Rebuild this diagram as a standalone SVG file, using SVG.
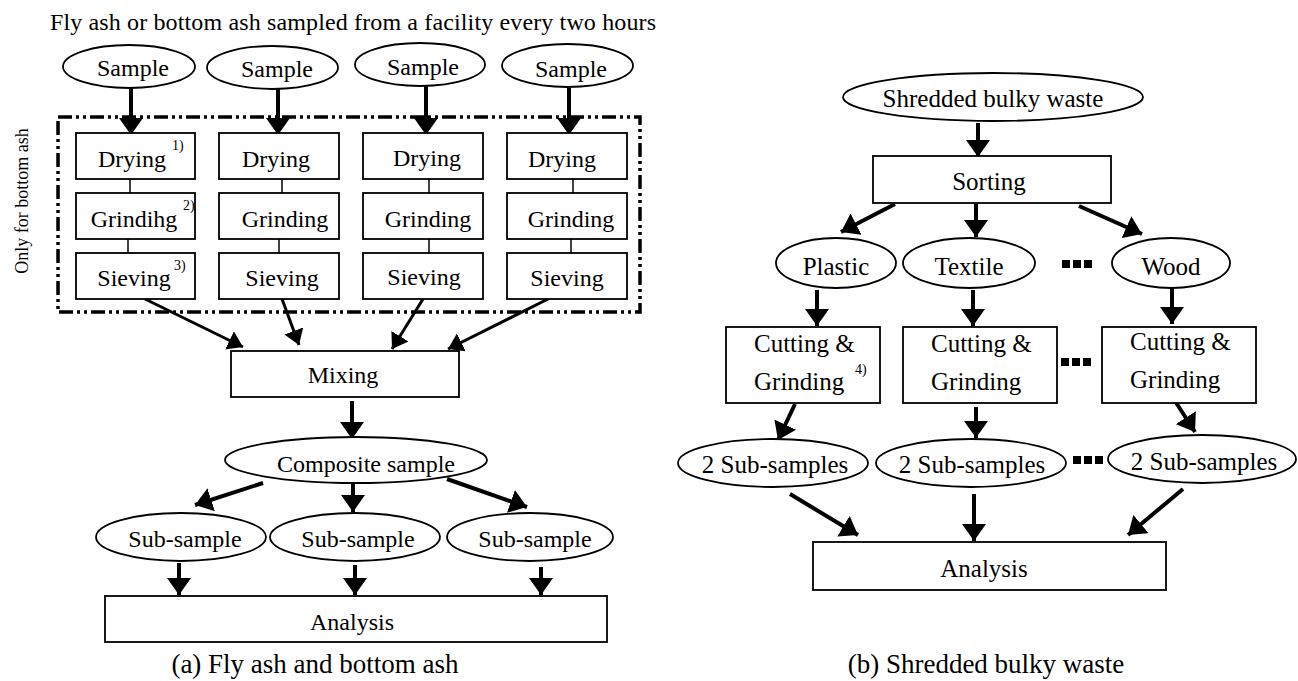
<svg xmlns="http://www.w3.org/2000/svg" width="1298" height="681" viewBox="0 0 1298 681">
<defs>
<style>
text{font-family:"Liberation Serif","Times New Roman",serif;fill:#000}
.t{font-size:24px;text-anchor:middle}
.r{font-size:25px;text-anchor:middle}
.rl{font-size:25px}
.sup{font-size:14px}
.cap{font-size:27px;text-anchor:middle}
.box{fill:#fff;stroke:#000;stroke-width:1.8}
.ell{fill:#fff;stroke:#000;stroke-width:1.8}
.thin{stroke:#000;stroke-width:1.5;fill:none}
.a{stroke:#000;stroke-width:4;fill:none;marker-end:url(#hb)}
.as{stroke:#000;stroke-width:3;fill:none;marker-end:url(#hs)}
.dd{fill:none;stroke:#000;stroke-width:3.5;stroke-dasharray:14 4 3 4 3 4}
</style>
<marker id="hb" viewBox="0 0 17 24" refX="17" refY="12" markerWidth="17" markerHeight="24" markerUnits="userSpaceOnUse" orient="auto"><path d="M0,0 L17,12 L0,24 z" fill="#000"/></marker>
<marker id="hs" viewBox="0 0 15 20" refX="15" refY="10" markerWidth="15" markerHeight="20" markerUnits="userSpaceOnUse" orient="auto"><path d="M0,0 L15,10 L0,20 z" fill="#000"/></marker>
</defs>
<rect width="1298" height="681" fill="#fff"/>

<!-- Panel (a) -->
<text x="50" y="30" style="font-size:24px" textLength="606" lengthAdjust="spacing">Fly ash or bottom ash sampled from a facility every two hours</text>
<text transform="translate(28,201) rotate(-90)" style="font-size:18px;text-anchor:middle">Only for bottom ash</text>
<rect id="bottom-ash-only" class="dd" x="58" y="117" width="582" height="195"/>

<g id="connectors">
<line class="a" x1="131" y1="87" x2="131" y2="135"/>
<line class="a" x1="278" y1="89" x2="278" y2="135"/>
<line class="a" x1="426" y1="86" x2="426" y2="135"/>
<line class="a" x1="569" y1="88" x2="569" y2="135"/>
<line class="thin" x1="130" y1="179" x2="130" y2="193"/>
<line class="thin" x1="128" y1="239" x2="128" y2="253"/>
<line class="thin" x1="282" y1="179" x2="282" y2="193"/>
<line class="thin" x1="279" y1="239" x2="279" y2="253"/>
<line class="thin" x1="429" y1="179" x2="429" y2="193"/>
<line class="thin" x1="429" y1="239" x2="429" y2="253"/>
<line class="thin" x1="573" y1="179" x2="573" y2="193"/>
<line class="thin" x1="571" y1="239" x2="571" y2="253"/>
<line class="as" x1="145" y1="299" x2="243" y2="347"/>
<line class="as" x1="282" y1="299" x2="299" y2="345"/>
<line class="as" x1="423" y1="299" x2="392" y2="349"/>
<line class="as" x1="552" y1="297" x2="448" y2="349"/>
<line class="a" x1="352" y1="401" x2="352" y2="439"/>
<line class="a" x1="263" y1="483" x2="195" y2="505"/>
<line class="a" x1="353" y1="482" x2="353" y2="512"/>
<line class="a" x1="447" y1="479" x2="527" y2="507"/>
<line class="a" x1="179" y1="563" x2="179" y2="595"/>
<line class="a" x1="355" y1="565" x2="355" y2="595"/>
<line class="a" x1="541" y1="567" x2="541" y2="595"/>
<!-- panel (b) -->
<line class="a" x1="978" y1="123" x2="978" y2="157"/>
<line class="a" x1="895" y1="204" x2="841" y2="232"/>
<line class="a" x1="976" y1="204" x2="976" y2="237"/>
<line class="a" x1="1079" y1="206" x2="1142" y2="234"/>
<line class="a" x1="817" y1="290" x2="817" y2="326"/>
<line class="a" x1="973" y1="290" x2="973" y2="326"/>
<line class="a" x1="1172" y1="288" x2="1172" y2="324"/>
<line class="a" x1="795" y1="404" x2="778" y2="440"/>
<line class="a" x1="976" y1="407" x2="976" y2="438"/>
<line class="a" x1="1175" y1="401" x2="1195" y2="432"/>
<line class="a" x1="790" y1="494" x2="858" y2="535"/>
<line class="a" x1="974" y1="494" x2="974" y2="541"/>
<line class="a" x1="1183" y1="489" x2="1128" y2="535"/>
</g>

<g id="sample1"><ellipse class="ell" cx="129" cy="66.5" rx="66" ry="21.5"/><text class="t" x="133" y="76">Sample</text></g>
<g id="sample2"><ellipse class="ell" cx="272.5" cy="67.5" rx="65.5" ry="21.5"/><text class="t" x="277" y="77">Sample</text></g>
<g id="sample3"><ellipse class="ell" cx="420" cy="64.5" rx="65" ry="21.5"/><text class="t" x="423" y="75">Sample</text></g>
<g id="sample4"><ellipse class="ell" cx="567.5" cy="65.5" rx="65.5" ry="21.5"/><text class="t" x="571" y="77">Sample</text></g>

<g id="drying1"><rect class="box" x="76" y="133" width="119" height="46"/><text class="t" x="132" y="167">Drying</text><text class="sup" x="172" y="150">1)</text></g>
<g id="drying2"><rect class="box" x="219" y="133" width="120" height="46"/><text class="t" x="276" y="167">Drying</text></g>
<g id="drying3"><rect class="box" x="363" y="133" width="120" height="46"/><text class="t" x="427" y="166">Drying</text></g>
<g id="drying4"><rect class="box" x="507" y="133" width="120" height="46"/><text class="t" x="562" y="167">Drying</text></g>

<g id="grinding1"><rect class="box" x="76" y="193" width="119" height="46"/><text class="t" x="134" y="227">Grindihg</text><text class="sup" x="183" y="210">2)</text></g>
<g id="grinding2"><rect class="box" x="219" y="193" width="120" height="46"/><text class="t" x="285" y="227">Grinding</text></g>
<g id="grinding3"><rect class="box" x="363" y="193" width="120" height="46"/><text class="t" x="428" y="227">Grinding</text></g>
<g id="grinding4"><rect class="box" x="507" y="193" width="120" height="46"/><text class="t" x="571" y="227">Grinding</text></g>

<g id="sieving1"><rect class="box" x="76" y="253" width="119" height="46"/><text class="t" x="134" y="286">Sieving</text><text class="sup" x="174" y="270">3)</text></g>
<g id="sieving2"><rect class="box" x="219" y="253" width="120" height="46"/><text class="t" x="282" y="286">Sieving</text></g>
<g id="sieving3"><rect class="box" x="363" y="253" width="120" height="46"/><text class="t" x="424" y="285">Sieving</text></g>
<g id="sieving4"><rect class="box" x="507" y="253" width="120" height="46"/><text class="t" x="567" y="286">Sieving</text></g>

<g id="mixing"><rect class="box" x="231" y="351" width="228" height="46"/><text class="t" x="343" y="383">Mixing</text></g>
<g id="composite"><ellipse class="ell" cx="356" cy="460" rx="131" ry="23"/><text class="t" x="366" y="472">Composite sample</text></g>
<g id="subsample1"><ellipse class="ell" cx="181" cy="537" rx="85" ry="24"/><text class="t" x="185" y="547">Sub-sample</text></g>
<g id="subsample2"><ellipse class="ell" cx="355" cy="537" rx="85" ry="24"/><text class="t" x="358" y="547">Sub-sample</text></g>
<g id="subsample3"><ellipse class="ell" cx="530" cy="537" rx="83" ry="24"/><text class="t" x="535" y="547">Sub-sample</text></g>
<g id="analysis-a"><rect class="box" x="105" y="596" width="502" height="46"/><text class="t" x="352" y="630">Analysis</text></g>
<text class="cap" x="315" y="673">(a) Fly ash and bottom ash</text>

<!-- Panel (b) -->
<g id="shredded"><ellipse class="ell" cx="993" cy="97" rx="150" ry="24"/><text class="r" x="993" y="107">Shredded bulky waste</text></g>
<g id="sorting"><rect class="box" x="873" y="156" width="238" height="47"/><text class="r" x="989" y="190">Sorting</text></g>
<g id="plastic"><ellipse class="ell" cx="836" cy="263" rx="60" ry="25"/><text class="r" x="836" y="275">Plastic</text></g>
<g id="textile"><ellipse class="ell" cx="969" cy="263" rx="66" ry="25"/><text class="r" x="969" y="275">Textile</text></g>
<g id="dots1"><rect x="1062" y="260" width="8" height="8"/><rect x="1073" y="260" width="8" height="8"/><rect x="1084" y="260" width="8" height="8"/></g>
<g id="wood"><ellipse class="ell" cx="1171" cy="263" rx="59" ry="25"/><text class="r" x="1171" y="275">Wood</text></g>

<g id="cut1"><rect class="box" x="726" y="327" width="154" height="76"/><text class="rl" x="754" y="352">Cutting &amp;</text><text class="rl" x="754" y="390">Grinding</text><text class="sup" x="855" y="374">4)</text></g>
<g id="cut2"><rect class="box" x="903" y="327" width="154" height="76"/><text class="rl" x="931" y="352">Cutting &amp;</text><text class="rl" x="931" y="390">Grinding</text></g>
<g id="dots2"><rect x="1061" y="358" width="8" height="8"/><rect x="1072" y="358" width="8" height="8"/><rect x="1083" y="358" width="8" height="8"/></g>
<g id="cut3"><rect class="box" x="1102" y="327" width="154" height="76"/><text class="rl" x="1130" y="350">Cutting &amp;</text><text class="rl" x="1130" y="388">Grinding</text></g>

<g id="sub2a"><ellipse class="ell" cx="773" cy="463" rx="95" ry="24"/><text class="r" x="775" y="473">2 Sub-samples</text></g>
<g id="sub2b"><ellipse class="ell" cx="971" cy="463" rx="95" ry="24"/><text class="r" x="972" y="473">2 Sub-samples</text></g>
<g id="dots3"><rect x="1073" y="456" width="8" height="8"/><rect x="1084" y="456" width="8" height="8"/><rect x="1095" y="456" width="8" height="8"/></g>
<g id="sub2c"><ellipse class="ell" cx="1202" cy="459" rx="94" ry="24"/><text class="r" x="1204" y="470">2 Sub-samples</text></g>
<g id="analysis-b"><rect class="box" x="813" y="542" width="353" height="48"/><text class="r" x="984" y="577">Analysis</text></g>
<text class="cap" x="986" y="673">(b) Shredded bulky waste</text>
</svg>
